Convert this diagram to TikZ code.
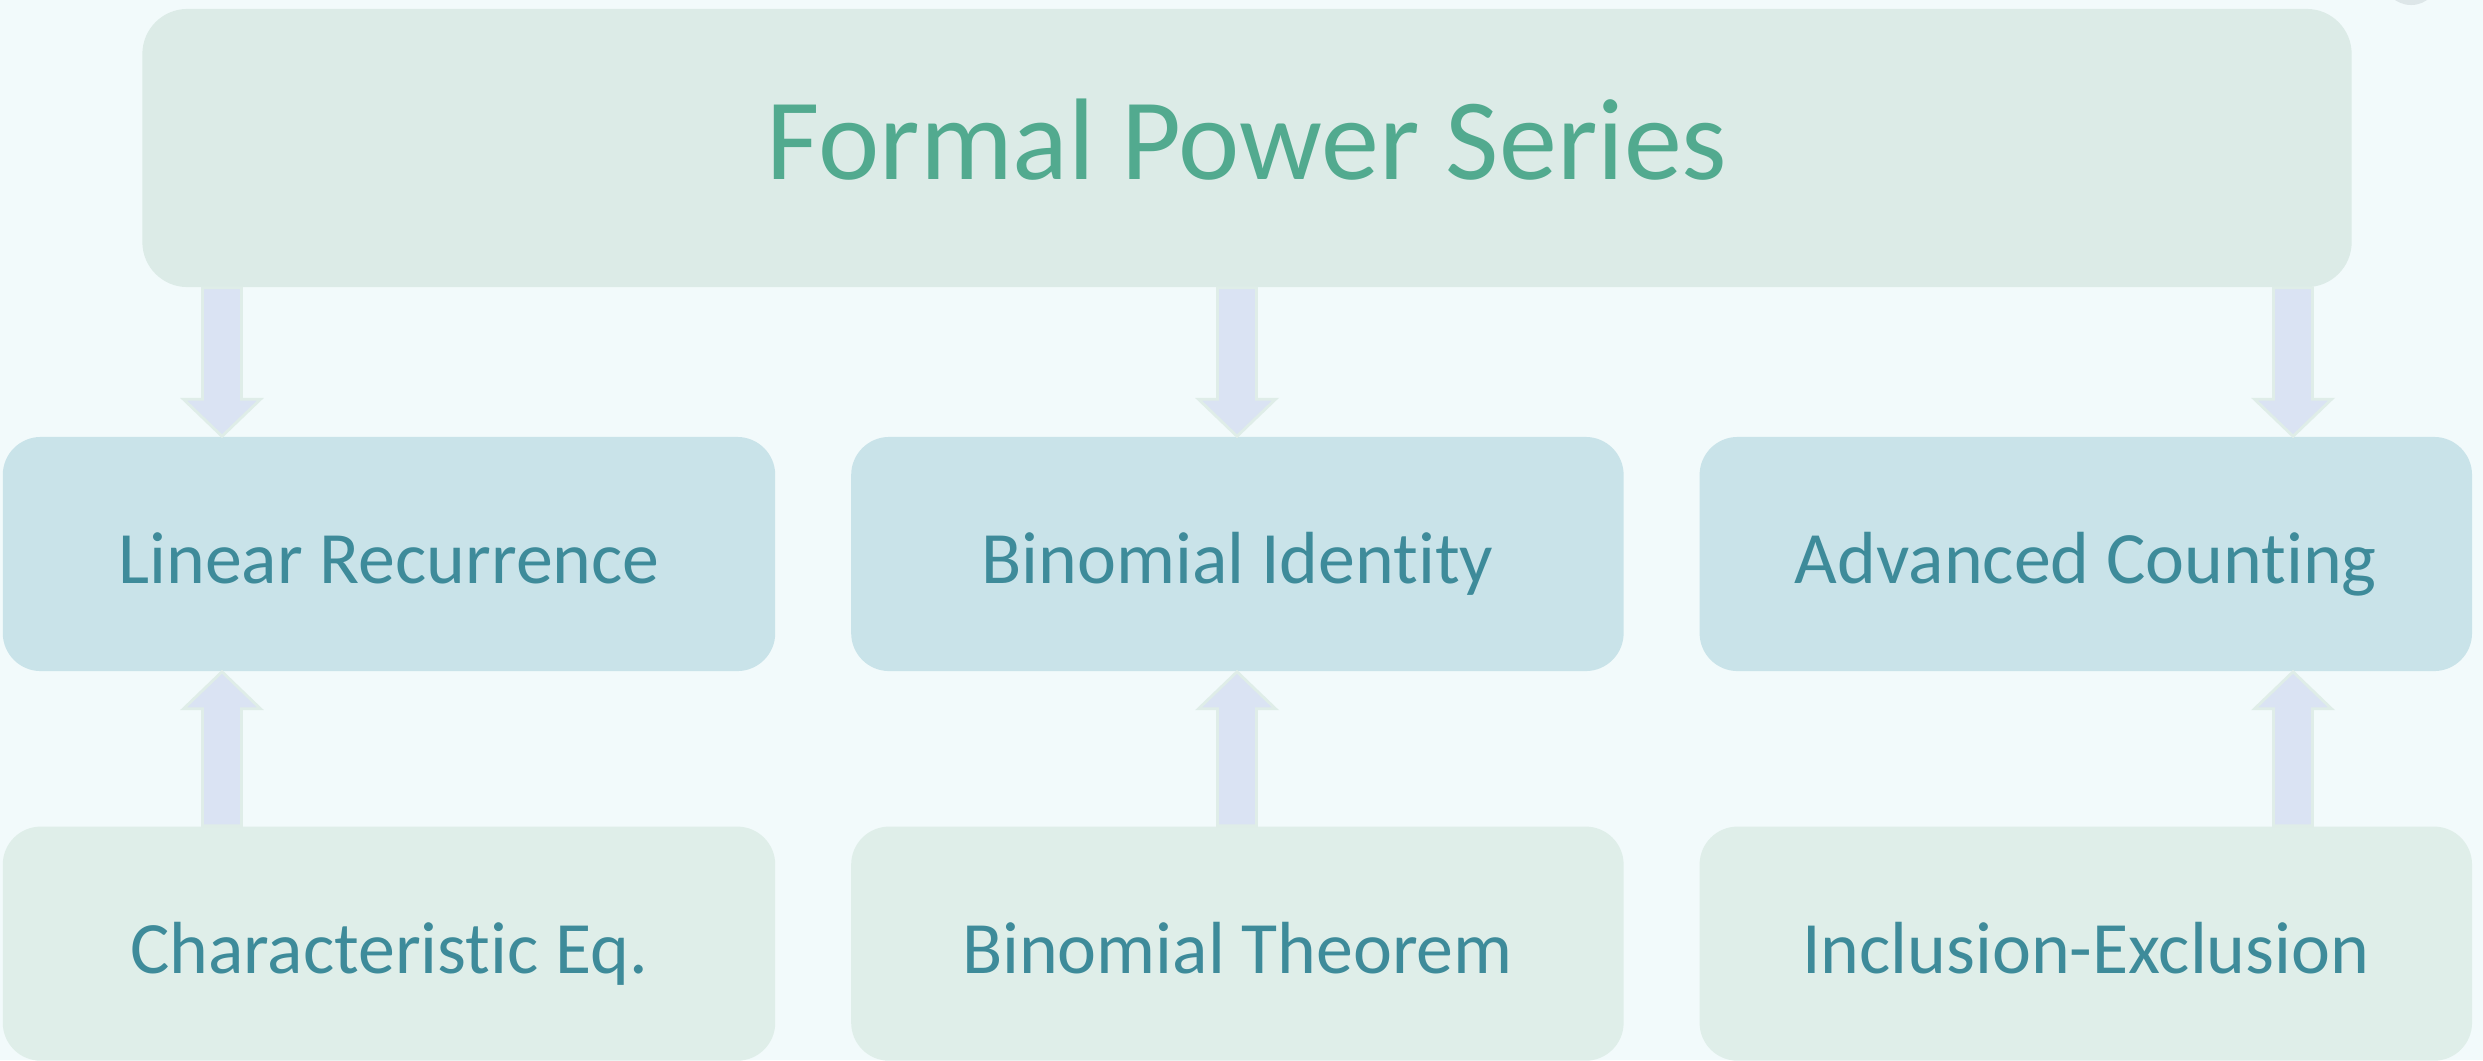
\documentclass[tikz,border=0pt]{standalone}
\usepackage{fontspec}
\setmainfont{Carlito}[RawFeature={-liga;-dlig;-clig}]
\usetikzlibrary{calc,positioning}
\definecolor{bgcol}{HTML}{F2FAFB}
\definecolor{rootfill}{HTML}{DCEBE7}
\definecolor{topicfill}{HTML}{C9E3E9}
\definecolor{toolfill}{HTML}{DFEEE9}
\definecolor{roottext}{HTML}{52AA8F}
\definecolor{nodetext}{HTML}{3E8B9A}
\definecolor{arrowfill}{HTML}{DAE3F3}
\definecolor{arrowline}{HTML}{DFEDE8}
\definecolor{dotfill}{HTML}{DDE6E8}
\tikzset
{
    rootnode/.style  = {rectangle, rounded corners=0.45cm, fill=rootfill, text=roottext, minimum width=22.08cm, minimum height=2.78cm, text height=0.62cm, text depth=0pt, font=\fontsize{33}{40}\selectfont},
    topicnode/.style = {rectangle, rounded corners=0.38cm, fill=topicfill, text=nodetext, minimum width=7.72cm, minimum height=2.34cm, text height=0.58cm, text depth=0pt, font=\fontsize{21}{26}\selectfont},
    toolnode/.style  = {rectangle, rounded corners=0.38cm, fill=toolfill, text=nodetext, minimum width=7.72cm, minimum height=2.34cm, text height=0.59cm, text depth=0pt, font=\fontsize{21}{26}\selectfont},
    blockarrow/.style = {fill=arrowfill, draw=arrowline, line width=0.8pt, line join=miter,
        to path={($(\tikztostart)+(-19.5,0)$) -- ($(\tikztotarget)+(-19.5,#1)$) -- ($(\tikztotarget)+(-38.5,#1)$)
            -- (\tikztotarget) -- ($(\tikztotarget)+(38.5,#1)$) -- ($(\tikztotarget)+(19.5,#1)$) -- ($(\tikztostart)+(19.5,0)$) -- cycle}}
}

\begin{document}
\begin{tikzpicture}[x=0.01cm, y=-0.01cm]
	\fill[bgcol] (0,0) rectangle (2483,1060);
	\useasboundingbox (0,0) rectangle (2483,1060);
	\node[circle, fill=dotfill, minimum size=0.56cm, inner sep=0pt] (dot) at (2411,-23) {};

	\node[rootnode] (root) at (1247,148) {Formal Power Series};

	\node[topicnode] (lin) at (389,554) {Linear Recurrence};
	\node[topicnode, right=0.745cm of lin] (binid) {Binomial Identity};
	\node[topicnode, right=0.745cm of binid] (adv) {Advanced Counting};

	\node[toolnode, below=1.54cm of lin] (char) {Characteristic Eq.};
	\node[toolnode, below=1.54cm of binid] (binthm) {Binomial Theorem};
	\node[toolnode, below=1.54cm of adv] (incl) {Inclusion-Exclusion};

	\coordinate (a1) at (222,0);
	\coordinate (a2) at (1237,0);
	\coordinate (a3) at (2293,0);

	\draw[blockarrow=-37] (a1 |- root.south) to (a1 |- lin.north);
	\draw[blockarrow=-37] (a2 |- root.south) to (a2 |- binid.north);
	\draw[blockarrow=-37] (a3 |- root.south) to (a3 |- adv.north);

	\draw[blockarrow=37] (a1 |- char.north) to (a1 |- lin.south);
	\draw[blockarrow=37] (a2 |- binthm.north) to (a2 |- binid.south);
	\draw[blockarrow=37] (a3 |- incl.north) to (a3 |- adv.south);
\end{tikzpicture}
\end{document}
